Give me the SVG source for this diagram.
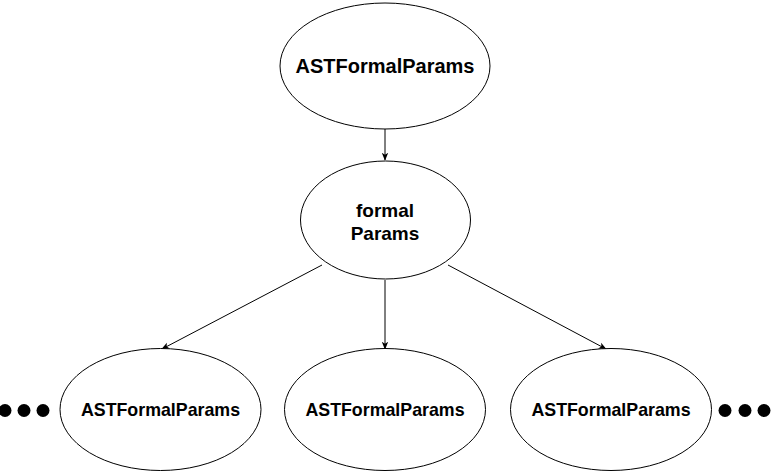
<svg xmlns="http://www.w3.org/2000/svg" width="771" height="471" viewBox="0 0 771 471">
<style>
.n{fill:#fff;stroke:#000;stroke-width:1}
.t{font-family:"Liberation Sans",Arial,sans-serif;font-weight:bold;fill:#000;text-anchor:middle}
.e{stroke:#000;stroke-width:1;fill:none;marker-end:url(#a)}
.d{fill:#000}
</style>
<defs>
<marker id="a" viewBox="0 0 10 10" refX="9" refY="5" markerWidth="8" markerHeight="8" markerUnits="userSpaceOnUse" orient="auto">
<path d="M0,1 L10,5 L0,9 L2.5,5 Z" fill="#000"/>
</marker>
</defs>
<rect width="771" height="471" fill="#fff"/>
<g id="connectors">
<line class="e" x1="385" y1="129" x2="385" y2="160"/>
<line class="e" x1="322" y1="265" x2="162" y2="349"/>
<line class="e" x1="385" y1="280" x2="385" y2="349"/>
<line class="e" x1="448" y1="265" x2="606" y2="349"/>
</g>
<g id="top">
<ellipse class="n" cx="385" cy="66" rx="105" ry="63"/>
<text class="t" x="385" y="73" font-size="20">ASTFormalParams</text>
</g>
<g id="mid">
<ellipse class="n" cx="385.5" cy="220" rx="85" ry="59"/>
<text class="t" x="385" y="217" font-size="19">formal</text>
<text class="t" x="385" y="240" font-size="19">Params</text>
</g>
<g id="b1">
<ellipse class="n" cx="160.5" cy="409.5" rx="100.5" ry="61"/>
<text class="t" x="160.5" y="416" font-size="17.8">ASTFormalParams</text>
</g>
<g id="b2">
<ellipse class="n" cx="385" cy="409.5" rx="100.5" ry="61"/>
<text class="t" x="385" y="416" font-size="17.8">ASTFormalParams</text>
</g>
<g id="b3">
<ellipse class="n" cx="611" cy="409.5" rx="100.5" ry="61"/>
<text class="t" x="611" y="416" font-size="17.8">ASTFormalParams</text>
</g>
<g id="dotsL">
<circle class="d" cx="5" cy="410.5" r="6.5"/>
<circle class="d" cx="24" cy="410.5" r="6.5"/>
<circle class="d" cx="43" cy="410.5" r="6.5"/>
</g>
<g id="dotsR">
<circle class="d" cx="725" cy="410.5" r="6.5"/>
<circle class="d" cx="745" cy="410.5" r="6.5"/>
<circle class="d" cx="764" cy="410.5" r="6.5"/>
</g>
</svg>
